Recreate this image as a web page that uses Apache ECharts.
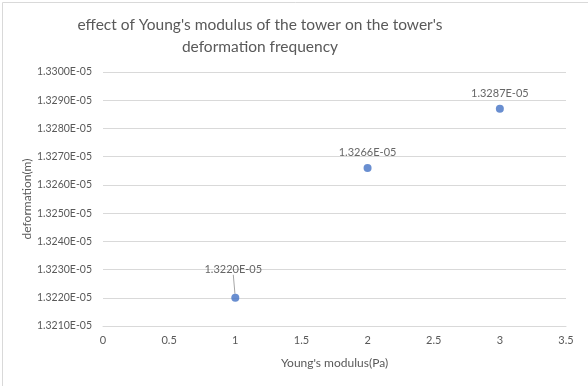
<!DOCTYPE html>
<html><head><meta charset="utf-8">
<script src="https://cdn.jsdelivr.net/npm/echarts@6/dist/echarts.min.js"></script>
<style>html,body{margin:0;padding:0;background:#fff;}#c{width:588px;height:386px;}</style>
</head><body><div id="c"></div>
<script>
var xValues = [1, 2, 3];
var yValues = [1.3220e-5, 1.3266e-5, 1.3287e-5];
var titleText = "effect of Young's modulus of the tower on the tower's\ndeformation frequency";
var xName = "Young's modulus(Pa)";
var yName = "deformation(m)";

function sci(v) {
  var s = v.toExponential(4).toUpperCase();
  var p = s.split('E');
  var e = parseInt(p[1], 10);
  var sign = e < 0 ? '-' : '+';
  var a = Math.abs(e);
  return p[0] + 'E' + sign + (a < 10 ? '0' + a : a);
}

var chart = echarts.init(document.getElementById('c'));
var font = "Lato, 'Open Sans', sans-serif";
chart.setOption({
  animation: false,
  textStyle: {fontFamily: font},
  graphic: [{type: 'rect', left: 0, top: 0, shape: {x: 0.5, y: 0.5, width: 587, height: 385}, style: {fill: 'none', stroke: '#d9d9d9', lineWidth: 1}, silent: true}],
  title: {
    text: titleText, left: 255, textAlign: 'center', top: 9,
    textStyle: {fontFamily: font, fontSize: 15.5, fontWeight: 'normal', color: '#595959', lineHeight: 22}
  },
  grid: {left: 103, right: 22, top: 72, bottom: 60, containLabel: false},
  xAxis: {
    type: 'value', min: 0, max: 3.5, interval: 0.5,
    name: xName, nameLocation: 'middle', nameGap: 31,
    nameTextStyle: {color: '#595959', fontSize: 12, fontFamily: font},
    axisLine: {show: true, lineStyle: {color: '#d9d9d9'}},
    axisTick: {show: false},
    splitLine: {show: false},
    axisLabel: {color: '#595959', fontSize: 11, margin: 9, fontFamily: font,
      formatter: function (v) { return String(Math.round(v * 10) / 10); }}
  },
  yAxis: {
    type: 'value', min: 1.321e-5, max: 1.33e-5, interval: 1e-8,
    name: yName, nameLocation: 'middle', nameGap: 70, nameRotate: 90,
    nameMoveOverlap: false,
    nameTextStyle: {color: '#595959', fontSize: 12, fontFamily: font},
    axisLine: {show: false}, axisTick: {show: false},
    splitLine: {show: true, lineStyle: {color: '#d9d9d9'}},
    axisLabel: {color: '#595959', fontSize: 10.5, margin: 11, fontFamily: font, formatter: sci}
  },
  series: [{
    type: 'scatter',
    data: xValues.map(function (x, i) {
      return {value: [x, yValues[i]], labelLine: {show: i === 0}};
    }),
    symbol: 'circle', symbolSize: 8,
    itemStyle: {color: '#4472C4'},
    label: {show: true, position: 'top', distance: 6, color: '#404040', fontSize: 11, fontFamily: font,
      formatter: function (p) { return sci(p.value[1]); }},
    labelLayout: function (p) { return p.dataIndex === 0 ? {dy: -13, dx: -2} : {}; },
    labelLine: {lineStyle: {color: '#a6a6a6', width: 1}}
  }]
});
</script></body></html>
